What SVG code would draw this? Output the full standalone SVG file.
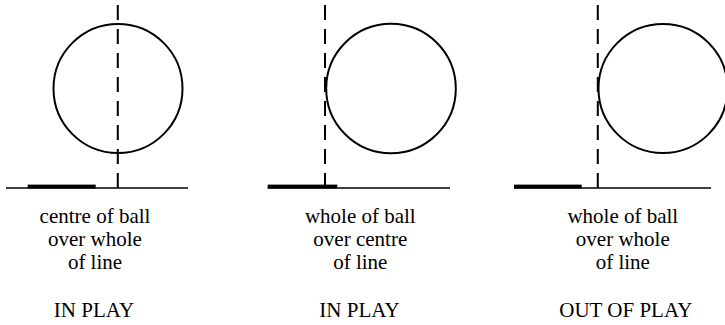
<svg xmlns="http://www.w3.org/2000/svg" width="725" height="325" viewBox="0 0 725 325">
<style>
.ball{fill:none;stroke:#000;stroke-width:2}
.base{stroke:#000;stroke-width:1.6;fill:none}
.bar{fill:#000}
.dash{stroke:#000;stroke-width:2;stroke-dasharray:15 9;fill:none}
</style>
<rect width="725" height="325" fill="#fff"/>
<g id="panel1">
<line class="base" x1="6" y1="188" x2="188" y2="188"/>
<rect class="bar" x="27.7" y="184.6" width="68" height="3.8"/>
<circle class="ball" cx="118" cy="88.5" r="64.5"/>
<line class="dash" x1="117.8" y1="5" x2="117.8" y2="188"/>
<g font-family="Liberation Serif, serif" font-size="21" text-anchor="middle" fill="#000">
<text x="95" y="222.7">centre of ball</text>
<text x="95" y="246">over whole</text>
<text x="95" y="269.3">of line</text>
<text x="94" y="317.3">IN PLAY</text>
</g>
</g>
<g id="panel2">
<line class="base" x1="267.7" y1="188" x2="450" y2="188"/>
<rect class="bar" x="267.7" y="184.6" width="69.6" height="3.8"/>
<circle class="ball" cx="391" cy="88.5" r="64.8"/>
<line class="dash" x1="325" y1="5" x2="325" y2="188"/>
<g font-family="Liberation Serif, serif" font-size="21" text-anchor="middle" fill="#000">
<text x="360.3" y="222.7">whole of ball</text>
<text x="360.3" y="246">over centre</text>
<text x="360.3" y="269.3">of line</text>
<text x="359.5" y="317.3">IN PLAY</text>
</g>
</g>
<g id="panel3">
<line class="base" x1="514" y1="188" x2="711" y2="188"/>
<rect class="bar" x="514" y="184.6" width="67.7" height="3.8"/>
<circle class="ball" cx="663" cy="88.5" r="64.5"/>
<line class="dash" x1="597.8" y1="5" x2="597.8" y2="188"/>
<g font-family="Liberation Serif, serif" font-size="21" text-anchor="middle" fill="#000">
<text x="622.8" y="222.7">whole of ball</text>
<text x="622.8" y="246">over whole</text>
<text x="622.8" y="269.3">of line</text>
<text x="625.8" y="317.3">OUT OF PLAY</text>
</g>
</g>
<g id="connectors"></g>
</svg>
